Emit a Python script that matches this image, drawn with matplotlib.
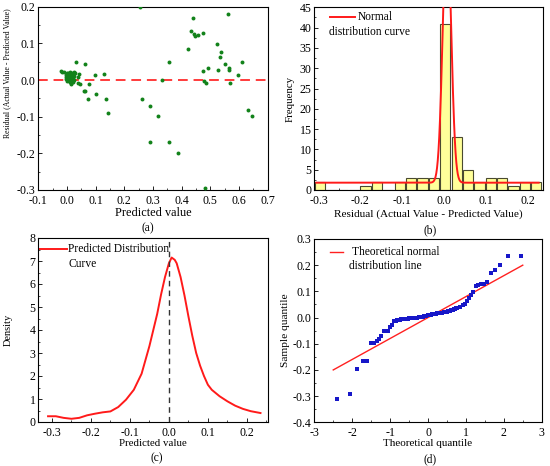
import matplotlib
matplotlib.use("Agg")
import matplotlib.pyplot as plt
import numpy as np
from matplotlib.ticker import MultipleLocator, FormatStrFormatter

plt.rcParams['font.family'] = ['Liberation Serif', 'DejaVu Serif']
plt.rcParams['axes.unicode_minus'] = False
plt.rcParams['xtick.direction'] = 'in'
plt.rcParams['ytick.direction'] = 'in'
plt.rcParams['axes.linewidth'] = 0.8

# ---- (a) residuals vs predicted value ----
pred_a = [0.256, 0.441, 0.561, 0.434, 0.443, 0.445, 0.455, 0.475, 0.422, 0.523,
          0.536, 0.534, 0.552, 0.609, 0.355, 0.490, 0.475, 0.526, 0.564, 0.565,
          0.595, 0.331, 0.479, 0.484, 0.567, 0.261, 0.290, 0.317, 0.290, 0.357,
          0.388, 0.482, 0.630, 0.644,
          0.031, 0.064, 0.099, 0.130, 0.037, 0.041, 0.038, 0.044, 0.060, 0.062,
          0.072, 0.078, 0.101, 0.136, 0.142, -0.022, -0.012, -0.017,
          -0.005, -0.003, -0.001, 0.000, 0.001, 0.002, 0.003, 0.004, 0.005, 0.006,
          0.007, 0.008, 0.009, 0.010, 0.011, 0.012, 0.013, 0.014, 0.015, 0.016,
          0.017, 0.018, 0.019, 0.020, 0.021, 0.022, 0.024, 0.025, 0.026, 0.027,
          0.001, 0.004, -0.002, 0.011, 0.013]
resid_a = [0.200, 0.168, 0.180, 0.134, 0.125, 0.120, 0.124, 0.127, 0.085, 0.098,
           0.077, 0.062, 0.043, 0.049, 0.049, 0.034, 0.025, 0.027, 0.032, 0.027,
           0.013, -0.001, -0.003, -0.009, -0.007, -0.053, -0.072, -0.098, -0.170, -0.169,
           -0.199, -0.294, -0.082, -0.099,
           0.048, 0.043, 0.015, 0.016, -0.009, 0.016, 0.009, -0.011, -0.031, -0.030,
           -0.053, -0.011, -0.037, -0.053, -0.091, 0.025, 0.023, 0.023,
           0.015, 0.008, 0.012, 0.005, 0.018, 0.010, 0.002, 0.014, 0.007, -0.002,
           0.011, 0.004, 0.016, -0.005, 0.008, 0.001, 0.013, -0.008, 0.005, 0.019,
           -0.003, 0.009, 0.002, 0.015, -0.006, 0.006, 0.021, 0.011, 0.000, 0.018,
           -0.004, 0.020, 0.003, 0.021, -0.011]

# ---- (b) histogram of residuals ----
hist_start = -0.31
hist_width = 0.02715
hist_counts = [2, 0, 0, 0, 1, 2, 0, 2, 3, 3, 3, 41, 13, 5, 2, 3, 3, 1, 2, 2]
# fitted normal curve (offset + gaussian)
norm_mu, norm_sigma, norm_amp, norm_base = 0.0063, 0.0099, 63.6, 1.8
norm_range = (-0.305, 0.225)

# ---- (c) density curve ----
dens_x = [-0.310, -0.290, -0.270, -0.250, -0.230, -0.210, -0.190, -0.170, -0.150,
          -0.130, -0.110, -0.090, -0.070, -0.050, -0.040, -0.030, -0.020, -0.010,
          0.000, 0.007, 0.015, 0.020, 0.030, 0.040, 0.050, 0.060, 0.070, 0.080,
          0.090, 0.100, 0.110, 0.130, 0.150, 0.170, 0.190, 0.210, 0.235]
dens_y = [0.25, 0.25, 0.18, 0.14, 0.18, 0.29, 0.36, 0.42, 0.46,
          0.65, 0.97, 1.40, 2.10, 3.30, 4.00, 4.70, 5.55, 6.30,
          6.90, 7.15, 7.05, 6.90, 6.30, 5.50, 4.60, 3.75, 3.00, 2.45,
          2.00, 1.62, 1.40, 1.12, 0.90, 0.71, 0.57, 0.47, 0.39]

# ---- (d) Q-Q plot ----
qq_theory = [-2.40, -2.06, -1.87, -1.72, -1.60, -1.50, -1.42, -1.35, -1.29, -1.24,
             -1.16, -1.10, -1.05, -0.99, -0.94, -0.89,
             -0.85, -0.82, -0.79, -0.76, -0.73, -0.70, -0.67, -0.64, -0.61, -0.58,
             -0.55, -0.52, -0.49, -0.46, -0.43, -0.40, -0.37, -0.34, -0.31, -0.28,
             -0.25, -0.22, -0.19, -0.16, -0.13, -0.10, -0.07, -0.04, -0.01, 0.02,
             0.05, 0.08, 0.11, 0.14, 0.17, 0.20, 0.23, 0.26, 0.29, 0.32,
             0.35, 0.38, 0.41, 0.44, 0.47, 0.50, 0.53, 0.56, 0.59, 0.62,
             0.65, 0.68, 0.71, 0.74, 0.77,
             0.84, 0.92, 0.98, 1.04, 1.08, 1.14, 1.20, 1.26, 1.33, 1.40,
             1.48, 1.55, 1.65, 1.78, 1.91, 2.12, 2.45]
qq_sample = [-0.310, -0.292, -0.197, -0.167, -0.167, -0.097, -0.097, -0.089, -0.080, -0.069,
             -0.052, -0.052, -0.052, -0.035, -0.030, -0.013,
             -0.012, -0.011, -0.010, -0.009, -0.008, -0.007, -0.007, -0.006, -0.005, -0.005,
             -0.004, -0.004, -0.003, -0.003, -0.002, -0.002, -0.001, -0.001, 0.000, 0.000,
             0.001, 0.002, 0.002, 0.003, 0.004, 0.005, 0.006, 0.007, 0.008, 0.009,
             0.010, 0.011, 0.012, 0.013, 0.014, 0.015, 0.016, 0.017, 0.017, 0.018,
             0.019, 0.019, 0.020, 0.021, 0.022, 0.023, 0.024, 0.025, 0.026, 0.027,
             0.029, 0.031, 0.033, 0.035, 0.037,
             0.042, 0.048, 0.052, 0.063, 0.076, 0.086, 0.099, 0.122, 0.124, 0.127,
             0.128, 0.136, 0.170, 0.183, 0.202, 0.235, 0.235]
qq_line_x = [-2.5, 2.5]
qq_line_y = [-0.2, 0.2]

W, H = 550, 466
fig = plt.figure(figsize=(W / 100, H / 100), dpi=100)


def add_ax(l, t, r, b):
    return fig.add_axes([l / W, 1 - b / H, (r - l) / W, (b - t) / H])


def style(ax):
    ax.tick_params(which='major', length=3, width=0.6, labelsize=8.6, pad=2)
    ax.tick_params(axis='x', which='major', pad=3.5)
    ax.tick_params(which='minor', length=1.6, width=0.5)


# (a)
ax1 = add_ax(38.3, 6.7, 267.8, 190)
ax1.scatter(pred_a, resid_a, s=8, color='#12821a', zorder=3, linewidths=0)
ax1.axhline(0, color='#ff3b3b', ls=(0, (5, 3)), lw=1.4, zorder=2)
ax1.set_xlim(-0.1, 0.7)
ax1.set_ylim(-0.3, 0.2)
ax1.xaxis.set_major_locator(MultipleLocator(0.1))
ax1.xaxis.set_minor_locator(MultipleLocator(0.05))
ax1.yaxis.set_major_locator(MultipleLocator(0.1))
ax1.yaxis.set_minor_locator(MultipleLocator(0.05))
ax1.xaxis.set_major_formatter(FormatStrFormatter('%.1f'))
ax1.yaxis.set_major_formatter(FormatStrFormatter('%.1f'))
ax1.set_xlabel('Predicted value', fontsize=8.8)
ax1.set_ylabel('Residual (Actual Value - Predicted Value)', fontsize=5.6)
ax1.xaxis.set_label_coords(0.5, -0.095)
ax1.yaxis.set_label_coords(-0.12, 0.635)
style(ax1)

# (b)
ax2 = add_ax(314.3, 7.3, 543.3, 190)
centers = [hist_start + (i + 0.5) * hist_width for i in range(len(hist_counts))]
ax2.bar(centers, hist_counts, width=hist_width * 0.9, color='#ffff9a',
        edgecolor='#4a4a30', linewidth=0.8, zorder=2)
xs = np.linspace(norm_range[0], norm_range[1], 600)
ys = norm_base + norm_amp * np.exp(-(xs - norm_mu) ** 2 / (2 * norm_sigma ** 2))
ax2.plot(xs, ys, color='#ff1a1a', lw=1.4, zorder=3)
ax2.set_xlim(-0.31, 0.236)
ax2.set_ylim(0, 45)
ax2.xaxis.set_major_locator(MultipleLocator(0.1))
ax2.xaxis.set_minor_locator(MultipleLocator(0.05))
ax2.yaxis.set_major_locator(MultipleLocator(5))
ax2.yaxis.set_minor_locator(MultipleLocator(2.5))
ax2.xaxis.set_major_formatter(FormatStrFormatter('%.1f'))
ax2.set_xlabel('Residual (Actual Value - Predicted Value)', fontsize=8.1)
ax2.set_ylabel('Frequency', fontsize=7.8)
ax2.xaxis.set_label_coords(0.5, -0.105)
ax2.yaxis.set_label_coords(-0.084, 0.5)
ax2.plot([0.069, 0.178], [0.947, 0.947], color='#ff1a1a', lw=1.4, transform=ax2.transAxes)
ax2.text(0.19, 0.947, 'Normal', transform=ax2.transAxes, fontsize=8.3, va='center')
ax2.text(0.064, 0.865, 'distribution curve', transform=ax2.transAxes, fontsize=8.3, va='center')
style(ax2)

# (c)
ax3 = add_ax(38.3, 238, 268.3, 422)
ax3.plot(dens_x, dens_y, color='#ff1a1a', lw=1.4)
ax3.axvline(0, color='#333333', ls=(0, (4, 3)), lw=1.0)
ax3.set_xlim(-0.335, 0.255)
ax3.set_ylim(0, 8)
ax3.xaxis.set_major_locator(MultipleLocator(0.1))
ax3.xaxis.set_minor_locator(MultipleLocator(0.05))
ax3.yaxis.set_major_locator(MultipleLocator(1))
ax3.yaxis.set_minor_locator(MultipleLocator(0.5))
ax3.xaxis.set_major_formatter(FormatStrFormatter('%.1f'))
ax3.set_xlabel('Predicted value', fontsize=7.8)
ax3.set_ylabel('Density', fontsize=7.5)
ax3.xaxis.set_label_coords(0.5, -0.095)
ax3.yaxis.set_label_coords(-0.11, 0.5)
ax3.plot([0.003, 0.125], [0.942, 0.942], color='#ff1a1a', lw=1.4, transform=ax3.transAxes)
ax3.text(0.13, 0.942, 'Predicted Distribution', transform=ax3.transAxes, fontsize=8.3, va='center')
ax3.text(0.13, 0.86, 'Curve', transform=ax3.transAxes, fontsize=8.3, va='center')
style(ax3)

# (d)
ax4 = add_ax(314.3, 239, 541.7, 422.3)
ax4.plot(qq_line_x, qq_line_y, color='#ff2020', lw=1.0, zorder=2)
ax4.scatter(qq_theory, qq_sample, s=6, marker='s', color='#1717c8', linewidths=0, zorder=3)
ax4.set_xlim(-3, 3)
ax4.set_ylim(-0.4, 0.3)
ax4.xaxis.set_major_locator(MultipleLocator(1))
ax4.xaxis.set_minor_locator(MultipleLocator(0.5))
ax4.yaxis.set_major_locator(MultipleLocator(0.1))
ax4.yaxis.set_minor_locator(MultipleLocator(0.05))
ax4.yaxis.set_major_formatter(FormatStrFormatter('%.1f'))
ax4.set_xlabel('Theoretical quantile', fontsize=8.0)
ax4.set_ylabel('Sample quantile', fontsize=8.2)
ax4.xaxis.set_label_coords(0.5, -0.093)
ax4.yaxis.set_label_coords(-0.107, 0.5)
ax4.plot([0.069, 0.128], [0.927, 0.927], color='#ff2020', lw=1.0, transform=ax4.transAxes)
ax4.text(0.167, 0.927, 'Theoretical normal', transform=ax4.transAxes, fontsize=8.3, va='center')
ax4.text(0.153, 0.851, 'distribution line', transform=ax4.transAxes, fontsize=8.3, va='center')
style(ax4)

# panel captions
for lab, xp, yp in [('(a)', 148, 228), ('(b)', 430, 230), ('(c)', 157, 458), ('(d)', 430, 459)]:
    fig.text(xp / W, 1 - yp / H, lab, ha='center', va='center', fontsize=8.3)

fig.savefig('out.png', dpi=100)
